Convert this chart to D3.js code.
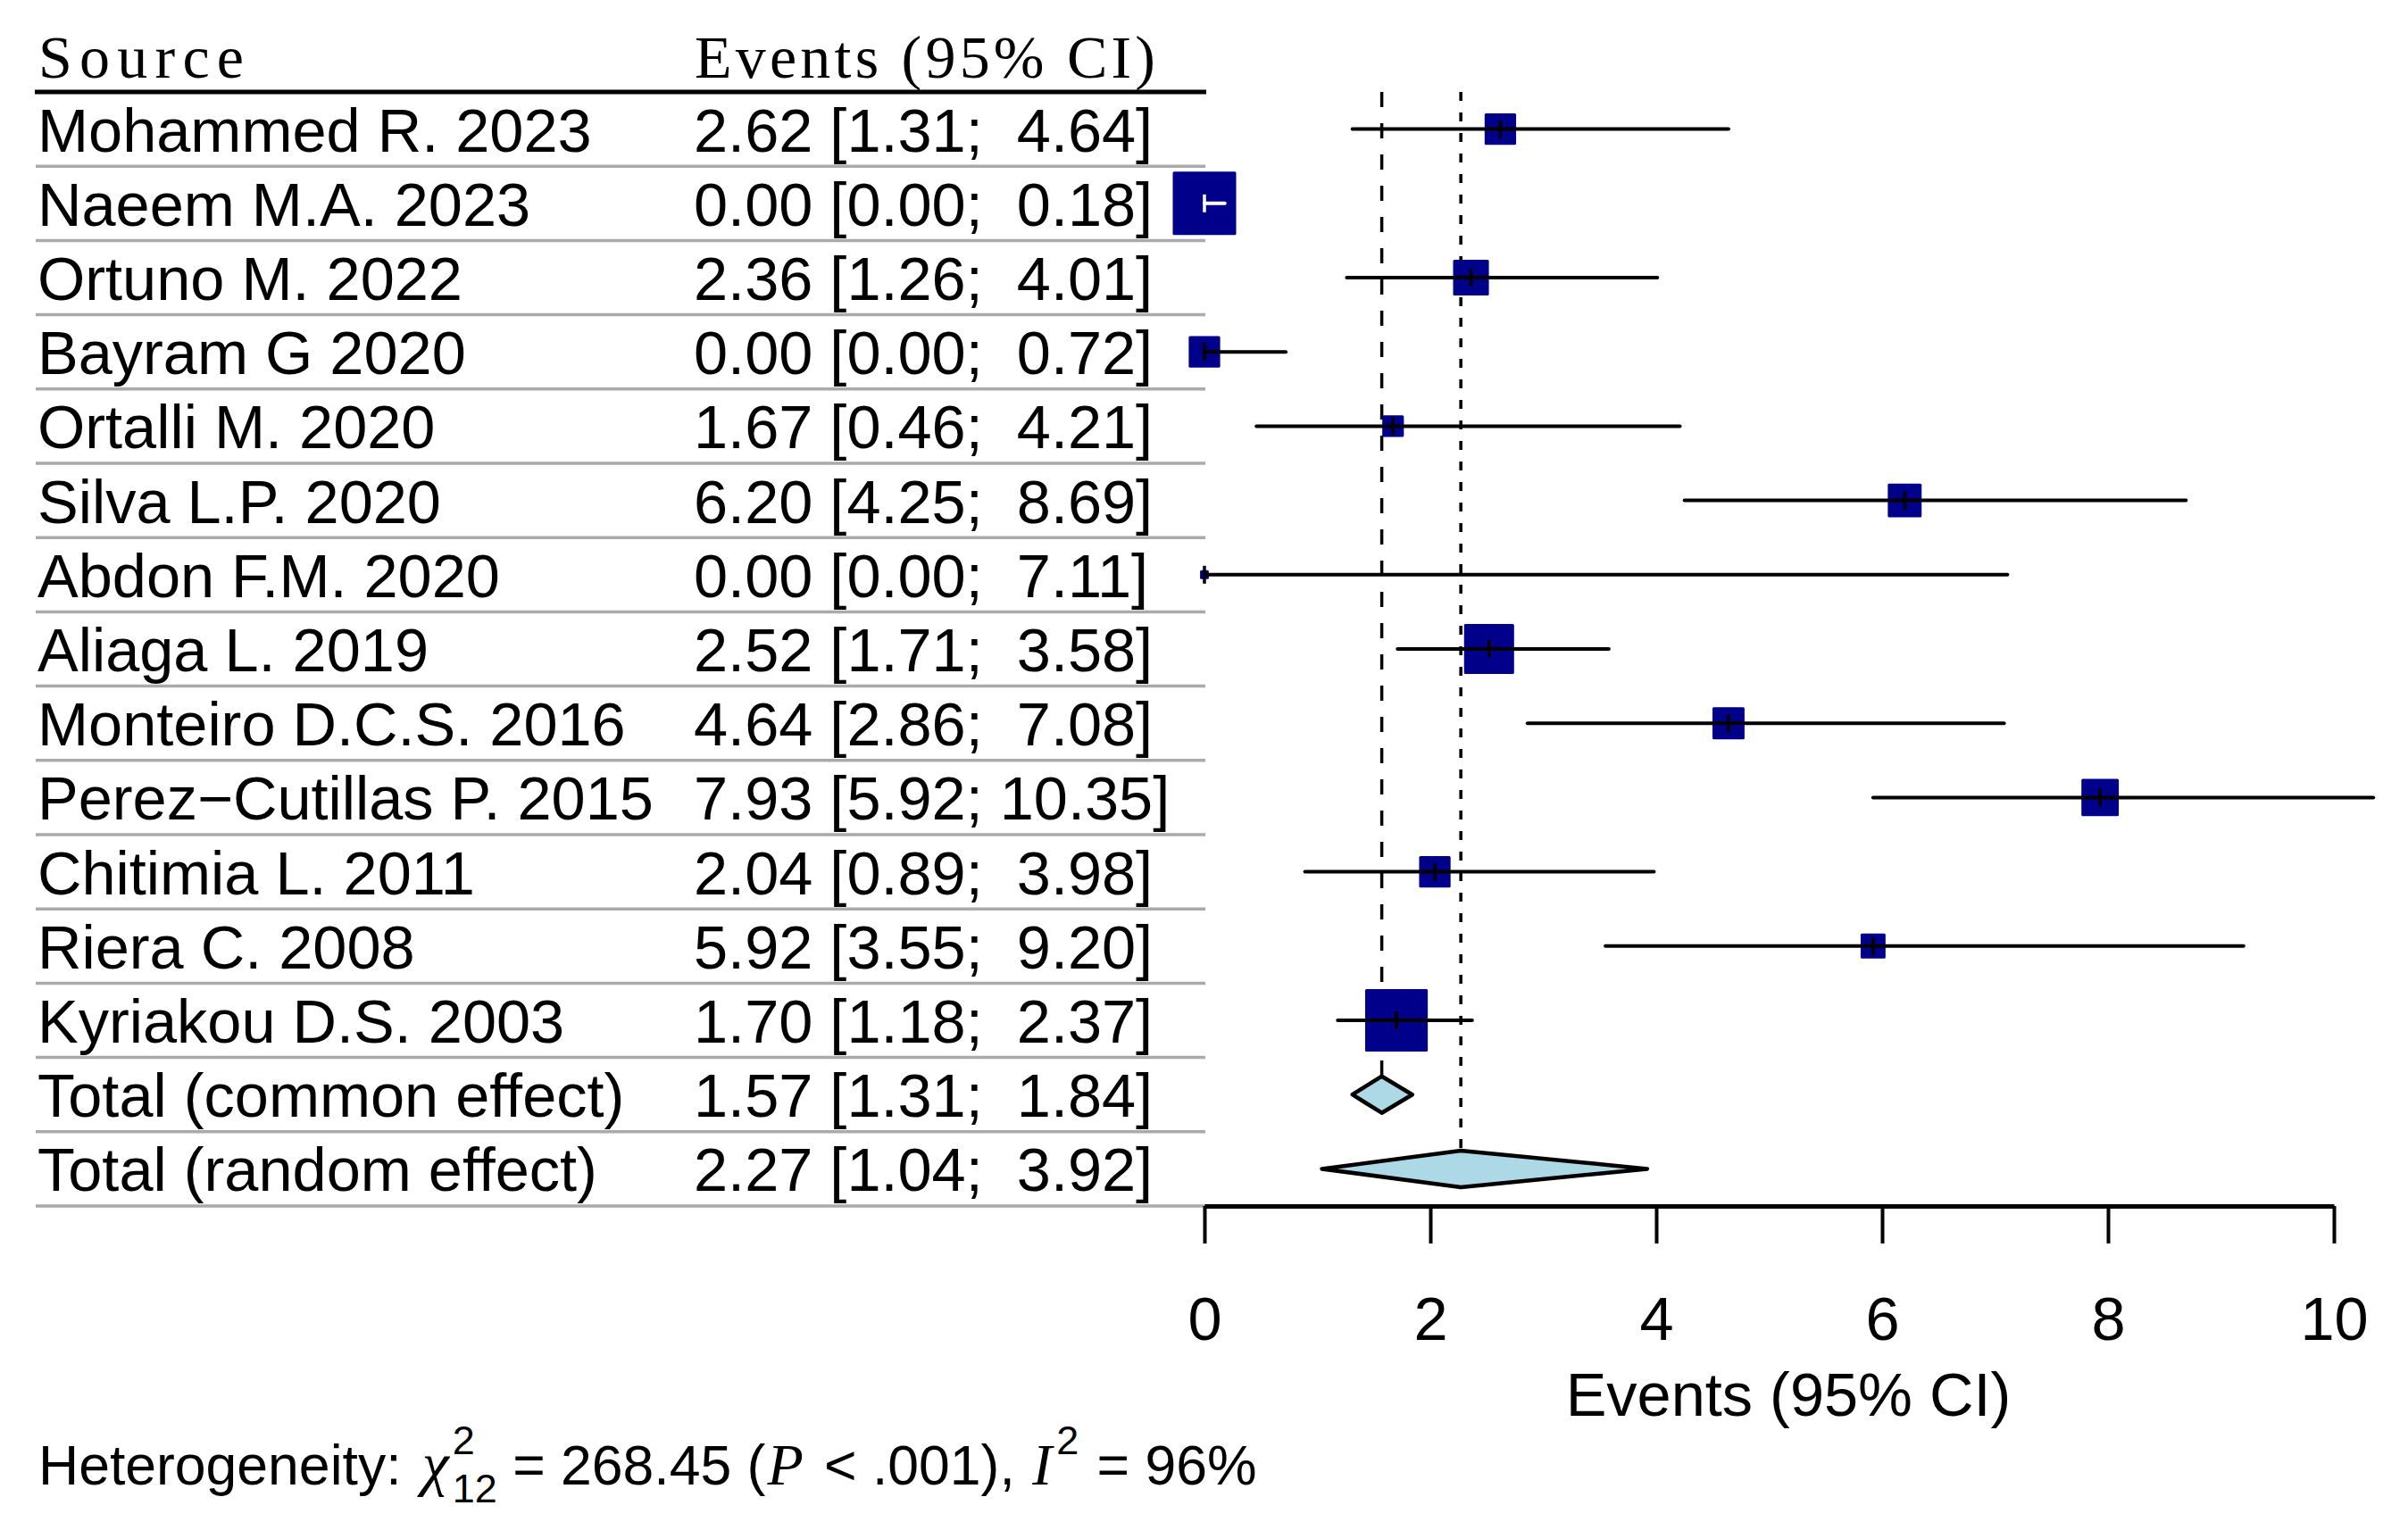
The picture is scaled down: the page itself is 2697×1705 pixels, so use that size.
<!DOCTYPE html>
<html>
<head>
<meta charset="utf-8">
<script src="https://cdn.jsdelivr.net/npm/d3@7"></script>
<style>
  body { margin: 0; background: #fff; }
  svg text { white-space: pre; }
</style>
</head>
<body>
<svg id="chart" width="2697" height="1705"></svg>
<script>
// study rows
const studies = ['Mohammed R. 2023', 'Naeem M.A. 2023', 'Ortuno M. 2022', 'Bayram G 2020', 'Ortalli M. 2020',
    'Silva L.P. 2020', 'Abdon F.M. 2020', 'Aliaga L. 2019', 'Monteiro D.C.S. 2016', 'Perez\u2212Cutillas P. 2015',
    'Chitimia L. 2011', 'Riera C. 2008', 'Kyriakou D.S. 2003'];
const estimates = [2.62, 0.00, 2.36, 0.00, 1.67, 6.20, 0.00, 2.52, 4.64, 7.93, 2.04, 5.92, 1.70];
const lowers = [1.31, 0.00, 1.26, 0.00, 0.46, 4.25, 0.00, 1.71, 2.86, 5.92, 0.89, 3.55, 1.18];
const uppers = [4.64, 0.18, 4.01, 0.72, 4.21, 8.69, 7.11, 3.58, 7.08, 10.35, 3.98, 9.20, 2.37];
// relative weights (%)
const weights = [5.1, 20.7, 6.6, 5.1, 2.4, 5.9, 0.4, 12.9, 5.3, 7.2, 5.1, 3.2, 20.2];

// pooled rows
const pooledLabels = ['Total (common effect)', 'Total (random effect)'];
const pooledEstimates = [1.57, 2.27];
const pooledLowers = [1.31, 1.04];
const pooledUppers = [1.84, 3.92];

const xTicks = [0, 2, 4, 6, 8, 10];
const headers = ['Source', 'Events (95% CI)'];
const axisTitle = 'Events (95% CI)';
const hetero = {chi2: '268.45', df: '12', p: '.001', i2: '96%'};

const svg = d3.select('#chart');
const sans = 'Liberation Sans, Arial, sans-serif';
const serif = 'Liberation Serif, Times New Roman, serif';
const fontSize = 68.5;

const nRows = studies.length + pooledLabels.length;
const x = d3.scaleLinear().domain([0, 10]).range([1349, 2614]);
const y = d3.scaleBand().domain(d3.range(nRows)).range([103, 103 + nRows * 83.2]);
const rowMid = i => y(i) + y.bandwidth() / 2;
const boxSize = d3.scaleSqrt().domain([0, d3.max(weights)]).range([0, 71]);

const fmt = v => v.toFixed(2);
const ciText = (e, l, u) => `${fmt(e)} [${fmt(l)}; ${fmt(u).padStart(5, ' ')}]`;

const rows = studies.map((name, i) => ({
    name, est: estimates[i], lo: lowers[i], hi: uppers[i], w: weights[i], idx: i
}));
const pooled = pooledLabels.map((name, i) => ({
    name, est: pooledEstimates[i], lo: pooledLowers[i], hi: pooledUppers[i], idx: studies.length + i
}));
const allRows = rows.concat(pooled);

// headers
svg.append('text').attr('x', 43).attr('y', 87)
    .attr('font-family', serif).attr('font-size', 68)
    .attr('textLength', 230).attr('lengthAdjust', 'spacing')
    .text(headers[0]);
svg.append('text').attr('x', 778).attr('y', 87)
    .attr('font-family', serif).attr('font-size', 68)
    .attr('textLength', 516).attr('lengthAdjust', 'spacing')
    .text(headers[1]);

svg.append('line').attr('x1', 39).attr('x2', 1351).attr('y1', 103).attr('y2', 103)
    .attr('stroke', '#000').attr('stroke-width', 5);

// row separators
svg.selectAll('.sep').data(allRows).enter().append('line')
    .attr('class', 'sep')
    .attr('x1', 40).attr('x2', 1350)
    .attr('y1', d => y(d.idx) + y.bandwidth()).attr('y2', d => y(d.idx) + y.bandwidth())
    .attr('stroke', '#aaaaaa').attr('stroke-width', 3.5);

// row texts
svg.selectAll('.name').data(allRows).enter().append('text')
    .attr('class', 'name')
    .attr('x', 42).attr('y', d => rowMid(d.idx) + 25)
    .attr('font-family', sans).attr('font-size', fontSize)
    .text(d => d.name);

svg.selectAll('.ci').data(allRows).enter().append('text')
    .attr('class', 'ci')
    .attr('x', 777).attr('y', d => rowMid(d.idx) + 25)
    .attr('font-family', sans).attr('font-size', fontSize)
    .text(d => ciText(d.est, d.lo, d.hi));

// reference lines at pooled estimates
svg.append('line')
    .attr('x1', x(pooledEstimates[0])).attr('x2', x(pooledEstimates[0]))
    .attr('y1', 103).attr('y2', rowMid(pooled[0].idx) - 21)
    .attr('stroke', '#000').attr('stroke-width', 3.5)
    .attr('stroke-dasharray', '17,18');
svg.append('line')
    .attr('x1', x(pooledEstimates[1])).attr('x2', x(pooledEstimates[1]))
    .attr('y1', 103).attr('y2', rowMid(pooled[1].idx) - 20)
    .attr('stroke', '#000').attr('stroke-width', 3.5)
    .attr('stroke-dasharray', '10,13');

// squares
svg.selectAll('.box').data(rows).enter().append('rect')
    .attr('class', 'box')
    .attr('x', d => x(d.est) - boxSize(d.w) / 2)
    .attr('y', d => rowMid(d.idx) - boxSize(d.w) / 2)
    .attr('width', d => boxSize(d.w)).attr('height', d => boxSize(d.w))
    .attr('rx', 1.5)
    .attr('fill', '#00008b');

// CI lines, white when they fit inside the box
const inside = d => (x(d.hi) - x(d.lo)) < boxSize(d.w);
svg.selectAll('.ciline').data(rows).enter().append('line')
    .attr('class', 'ciline')
    .attr('x1', d => x(d.lo)).attr('x2', d => x(d.hi))
    .attr('y1', d => rowMid(d.idx)).attr('y2', d => rowMid(d.idx))
    .attr('stroke', d => inside(d) ? '#fff' : '#000')
    .attr('stroke-width', 4).attr('stroke-linecap', 'round');

svg.selectAll('.tick-est').data(rows).enter().append('line')
    .attr('class', 'tick-est')
    .attr('x1', d => x(d.est)).attr('x2', d => x(d.est))
    .attr('y1', d => rowMid(d.idx) - 10).attr('y2', d => rowMid(d.idx) + 10)
    .attr('stroke', d => inside(d) ? '#fff' : '#000')
    .attr('stroke-width', 3.5);

// diamonds
svg.selectAll('.diamond').data(pooled).enter().append('polygon')
    .attr('class', 'diamond')
    .attr('points', d => {
        const cy = rowMid(d.idx), h = 20.5;
        return [[x(d.lo), cy], [x(d.est), cy - h], [x(d.hi), cy], [x(d.est), cy + h]].join(' ');
    })
    .attr('fill', '#add8e6').attr('stroke', '#000')
    .attr('stroke-width', 4.5).attr('stroke-linejoin', 'round');

// x axis
const axisY = y(nRows - 1) + y.bandwidth();
const axisG = svg.append('g')
    .attr('transform', `translate(0,${axisY})`)
    .call(d3.axisBottom(x).tickValues(xTicks).tickSize(42).tickSizeOuter(0).tickFormat(d3.format('d')));
axisG.select('.domain').attr('stroke', '#000').attr('stroke-width', 5);
axisG.selectAll('.tick line').attr('stroke', '#000').attr('stroke-width', 4);
axisG.selectAll('.tick text')
    .attr('y', 150).attr('dy', 0)
    .attr('font-family', sans).attr('font-size', fontSize).attr('fill', '#000');

svg.append('text')
    .attr('x', 2003).attr('y', 1586)
    .attr('text-anchor', 'middle')
    .attr('font-family', sans).attr('font-size', fontSize)
    .text(axisTitle);

// heterogeneity line, laid out piece by piece
const hetY = 1663;
let cursor = 43;
const piece = (txt, opts = {}) => {
    const t = svg.append('text')
        .attr('x', cursor).attr('y', opts.y || hetY)
        .attr('font-family', opts.family || sans)
        .attr('font-size', opts.size || 62.5)
        .attr('font-style', opts.italic ? 'italic' : 'normal')
        .text(txt);
    const w = t.node().getComputedTextLength();
    if (!opts.stay) cursor += w;
    return w;
};
piece('Heterogeneity: ');
cursor += 6;
piece('\u03c7', {family: serif, italic: true, size: 68});
cursor += 4;
const supW = piece('2', {size: 45, y: hetY - 34, stay: true});
const subW = piece(hetero.df, {size: 45, y: hetY + 20, stay: true});
cursor += Math.max(supW, subW);
piece(` = ${hetero.chi2} (`);
cursor += 2;
piece('P', {family: serif, italic: true, size: 66});
cursor += 6;
piece(` < ${hetero.p}), `);
cursor += 2;
piece('I', {family: serif, italic: true, size: 66});
cursor += 5;
piece('2', {size: 45, y: hetY - 34});
cursor += 3;
piece(` = ${hetero.i2}`);
</script>
</body>
</html>
